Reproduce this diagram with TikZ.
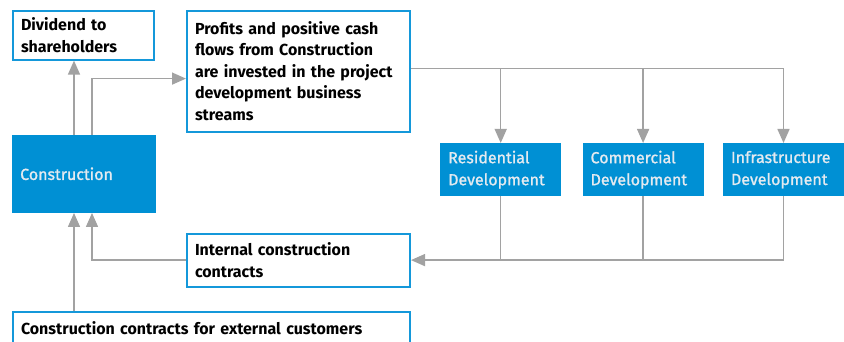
\documentclass[tikz,border=0pt]{standalone}
\usepackage{fontspec}
\setmainfont{Fira Sans}
\newfontfamily\mediumfont[FakeBold=1.2]{Fira Sans}
\usetikzlibrary{arrows.meta,positioning}
\definecolor{brandblue}{RGB}{0,144,212}
\definecolor{frameblue}{RGB}{20,152,218}
\definecolor{linegray}{RGB}{162,162,162}
\definecolor{paletext}{RGB}{228,234,240}

\begin{document}
\begin{tikzpicture}[
    x=1pt, y=1pt,
    textbox/.style={rectangle, draw=frameblue, line width=2pt, fill=white, align=left, inner xsep=8pt, inner ysep=0pt, font=\fontsize{16}{21.5}\selectfont\bfseries},
    bluebox/.style={rectangle, fill=brandblue, text=paletext, align=left, inner xsep=8pt, inner ysep=0pt, font=\fontsize{16}{22}\selectfont\mediumfont},
    devbox/.style={bluebox, text width=105pt, minimum height=53pt},
    arrow/.style={-{Triangle[width=12pt,length=14pt]}, draw=linegray, line width=1.5pt},
    line/.style={draw=linegray, line width=1.5pt}
]
\useasboundingbox (0,0) rectangle (844,342);
\clip (0,0) rectangle (844,342);

% Construction
\node[bluebox, text width=128pt, minimum height=78pt, anchor=south west] (construction) at (12,129) {Construction};

% Dividend
\node[textbox, text width=125pt, minimum height=49pt, above=74pt of construction.north west, anchor=south west] (dividend) {
    Dividend to\\
    shareholders
};

% Profits
\node[textbox, text width=207pt, minimum height=121pt, right=31pt of dividend.north east, anchor=north west] (profits) {
    Profits and positive cash\\
    flows from Construction\\
    are invested in the project\\
    development business\\
    streams
};

% Development streams
\node[devbox, anchor=north west] (residential) at (440,199) {Residential\\Development};
\node[devbox, right=21pt of residential] (commercial) {Commercial\\Development};
\node[devbox, right=19pt of commercial] (infra) {Infrastructure\\Development};

% Internal contracts
\node[textbox, text width=207pt, minimum height=53pt, below=100pt of profits.south west, anchor=north west] (internal) {
    Internal construction\\
    contracts
};

% External contracts
\node[textbox, text width=381pt, inner ysep=10pt, below=98pt of construction.south west, anchor=north west] (external) {
    Construction contracts for external customers
};

% Arrows
\coordinate (split) at ([yshift=2.5pt]profits.east);
\draw[arrow] ([xshift=62pt]construction.north west) -- ([xshift=62pt]construction.north west |- dividend.south);
\draw[arrow] ([xshift=80pt]construction.north west) |- ([yshift=-7.5pt]profits.west);
\draw[arrow] (split) -| (infra.north);
\draw[arrow] (split -| residential.north) -- (residential.north);
\draw[arrow] (split -| commercial.north) -- (commercial.north);
\draw[line] (residential.south) -- (residential.south |- internal.east);
\draw[line] (commercial.south) -- (commercial.south |- internal.east);
\draw[arrow] (infra.south) |- (internal.east);
\draw[arrow] (internal.west) -| ([xshift=80pt]construction.south west);
\draw[arrow] ([xshift=62pt]external.north west) -- ([xshift=62pt]construction.south west);

\end{tikzpicture}
\end{document}
